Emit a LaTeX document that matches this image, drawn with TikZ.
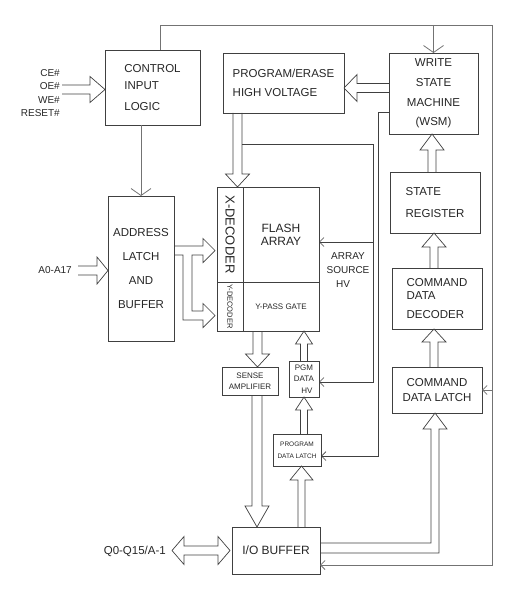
\documentclass[tikz,border=0pt]{standalone}
\usepackage{fontspec}
\setmainfont{Liberation Sans}
\usepackage{graphicx}
\usetikzlibrary{positioning, arrows.meta, calc}

% hollow wide arrow: start, tip, shaft half width, head half width, head length
\newcommand\fatarrow[5]{%
  \path (#1) coordinate (fa-s) (#2) coordinate (fa-t);
  \path ($(fa-t)!#5pt!(fa-s)$) coordinate (fa-b);
  \draw[fat] ($(fa-s)!#3pt!90:(fa-t)$) -- ($(fa-b)!#3pt!90:(fa-t)$) -- ($(fa-b)!#4pt!90:(fa-t)$) -- (fa-t)
    -- ($(fa-b)!#4pt!-90:(fa-t)$) -- ($(fa-b)!#3pt!-90:(fa-t)$) -- ($(fa-s)!#3pt!-90:(fa-t)$);
}

\begin{document}
\begin{tikzpicture}[x=1pt, y=-1pt,
  blk/.style={draw=black!75, line width=0.7pt, anchor=north west, inner sep=0pt, outer sep=0pt,
              align=center, text=black!85, font=\fontsize{11.5}{14}\selectfont},
  lbl/.style={inner sep=0pt, text=black!85, font=\fontsize{10}{13.3}\selectfont},
  fat/.style={draw=black!75, line width=0.7pt, line join=miter},
  sig/.style={draw=black!75, line width=0.7pt},
  bus/.style={draw=black!55, line width=0.8pt},
  bigarr/.style={-{Straight Barb[length=7pt,width=20pt]}},
  arr/.style={-{Straight Barb[length=4.5pt,width=9pt]}}
 ]
\useasboundingbox (0,0) rectangle (519,596);

% blocks
\node[blk, minimum width=95pt, minimum height=75pt, align=left, font=\fontsize{11.5}{17}\selectfont] (ctrl) at (105,50) {CONTROL\\INPUT\\[4pt]LOGIC};
\node[blk, minimum width=121pt, minimum height=60pt, align=left] (pehv) at (223,53) {PROGRAM/ERASE\\[5pt]HIGH VOLTAGE};
\node[blk, minimum width=89pt, minimum height=81pt, font=\fontsize{11.5}{19.7}\selectfont] (wsm) at (389,53) {WRITE\\STATE\\MACHINE\\(WSM)};
\node[blk, minimum width=90pt, minimum height=61pt, below=38pt of wsm, xshift=1.5pt, align=left, font=\fontsize{11.5}{22}\selectfont] (statereg) {STATE\\REGISTER};
\node[blk, minimum width=90pt, minimum height=61pt, below=35pt of statereg, xshift=2pt, align=left, font=\fontsize{11.5}{13}\selectfont] (cmddec) {COMMAND\\DATA\\[6pt]DECODER};
\node[blk, minimum width=90pt, minimum height=46pt, below=38pt of cmddec, font=\fontsize{11.5}{15}\selectfont] (cmdlatch) {COMMAND\\DATA LATCH};
\node[blk, minimum width=66pt, minimum height=145pt, font=\fontsize{11.5}{24}\selectfont] (latch) at (108,196) {ADDRESS\\LATCH\\AND\\BUFFER};

\node[blk, minimum width=26pt, minimum height=95pt, font=\fontsize{13}{15}\selectfont] (xdec) at (217,187) {\rotatebox{-90}{X-DECODER}};
\node[blk, minimum width=76pt, minimum height=95pt, right=0pt of xdec, font=\fontsize{12}{13}\selectfont] (flash) {FLASH\\ARRAY};
\node[blk, minimum width=26pt, minimum height=49pt, below=0pt of xdec, font=\fontsize{7.5}{9}\selectfont] (ydec) {\rotatebox{-90}{Y-DECODER}};
\node[blk, minimum width=76pt, minimum height=49pt, right=0pt of ydec, font=\fontsize{8}{9}\selectfont] (ypass) {Y-PASS GATE};

\node[blk, minimum width=56pt, minimum height=28pt, font=\fontsize{8}{11}\selectfont] (sense) at (222,367) {SENSE\\AMPLIFIER};
\node[blk, minimum width=30pt, minimum height=36pt, font=\fontsize{8}{11.5}\selectfont] (pgmhv) at (289,361) {PGM\\DATA\\\hspace*{6pt}HV};
\node[blk, minimum width=48pt, minimum height=32pt, font=\fontsize{6.5}{12}\selectfont] (pdl) at (273,434) {PROGRAM\\DATA LATCH};
\node[blk, minimum width=88pt, minimum height=47pt, font=\fontsize{12}{14}\selectfont] (io) at (232,527) {I/O BUFFER};

% pin labels
\node[lbl, anchor=east, align=right] (ctrlsig) at (60,93) {CE\#\\OE\#\\WE\#\\RESET\#};
\node[lbl, anchor=east] (addr) at (72,270) {A0-A17};
\node[lbl, anchor=east, font=\fontsize{11.5}{14}\selectfont] (data) at (166,551) {Q0-Q15/A-1};
\node[lbl, align=center, font=\fontsize{10}{14}\selectfont] (srclbl) at (348,270) {ARRAY\\SOURCE\\\hspace*{-10pt}HV};

% thin lines
\coordinate (busR) at (492,25);
\coordinate (hvbus) at (373,144);
\coordinate (wsmbus) at (378,112);
\coordinate (srcin) at ([yshift=-7.5pt]flash.east);
\draw[bus, arr] ([xshift=7.5pt]ctrl.north) |- (busR) |- ([yshift=-14.5pt]io.east);
\draw[bus, bigarr] (wsm.north |- busR) -- (wsm.north);
\draw[bus, arr] (busR |- cmdlatch.east) -- (cmdlatch.east);
\draw[bus, bigarr] (latch.north |- ctrl.south) -- (latch.north);
\draw[sig, arr] ($(pehv.south west)+(19,31)$) -- (hvbus) |- ([yshift=-3pt]pgmhv.east);
\draw[sig, arr] (hvbus |- srcin) -- (srcin);
\draw[sig, arr] (wsm.west |- wsmbus) -- (wsmbus) |- ([yshift=-6pt]pdl.east);

% wide arrows
\fatarrow{$(ctrl.west)+(-43,2)$}{$(ctrl.west)+(0,2)$}{4.5}{13}{15}
\fatarrow{$(latch.west)+(-30,2)$}{$(latch.west)+(0,2)$}{4.5}{13.5}{11}
\fatarrow{$(wsm.west)+(0,-5.5)$}{$(pehv.east)+(0,5)$}{4.5}{13.5}{13}
\fatarrow{$(pehv.south west)+(14.5,0)$}{$(xdec.north west)+(20.5,0)$}{4.5}{12}{13}
\fatarrow{$(statereg.north)+(-3,0)$}{$(wsm.south)+(-1.5,0)$}{4}{12}{16}
\fatarrow{$(cmddec.north)+(-3,0)$}{$(statereg.south)+(-1,0)$}{4}{12}{14}
\fatarrow{$(cmdlatch.north)+(-3,0)$}{$(cmddec.south)+(-3,0)$}{4}{12}{13}
\fatarrow{$(ypass.south west)+(14.5,0)$}{$(sense.north)+(7.5,0)$}{4.5}{12}{13}
\fatarrow{$(sense.south)+(7,0)$}{$(io.north)+(-19,0)$}{5}{12}{21}
\fatarrow{pgmhv.north}{pgmhv.north |- ypass.south}{3.5}{8.5}{13}
\fatarrow{pgmhv.south |- pdl.north}{pgmhv.south}{3.5}{8.5}{13}
\fatarrow{$(io.north)+(25.5,0)$}{$(pdl.south)+(4.5,0)$}{3.5}{11.5}{14}

% address latch to both decoders
\draw[fat] ([yshift=22.5pt]latch.east) -- ++(29,0) -- ++(0,-7.5) -- ++(12,12) -- ++(-12,12) -- ++(0,-7.5)
  -- ++(-11,0) -- ++(0,56) -- ++(11,0) -- ++(0,-7.5) -- ++(12,12) -- ++(-12,12) -- ++(0,-7.5)
  -- ++(-20,0) -- ++(0,-65) -- ++(-9,0);
% i/o buffer to command data latch
\draw[fat] ([yshift=7.5pt]io.east) -- ++(111,0) -- ++(0,-114) -- ++(-8,0) -- ++(12,-16) -- ++(12,16)
  -- ++(-8,0) -- ++(0,124) -- ++(-119,0);
% data pins
\draw[fat] ([xshift=-2pt]io.west) -- ++(-12,-14) -- ++(0,9.5) -- ++(-34,0) -- ++(0,-9.5) -- ++(-12,14)
  -- ++(12,14) -- ++(0,-9.5) -- ++(34,0) -- ++(0,9.5) -- cycle;
\end{tikzpicture}
\end{document}
